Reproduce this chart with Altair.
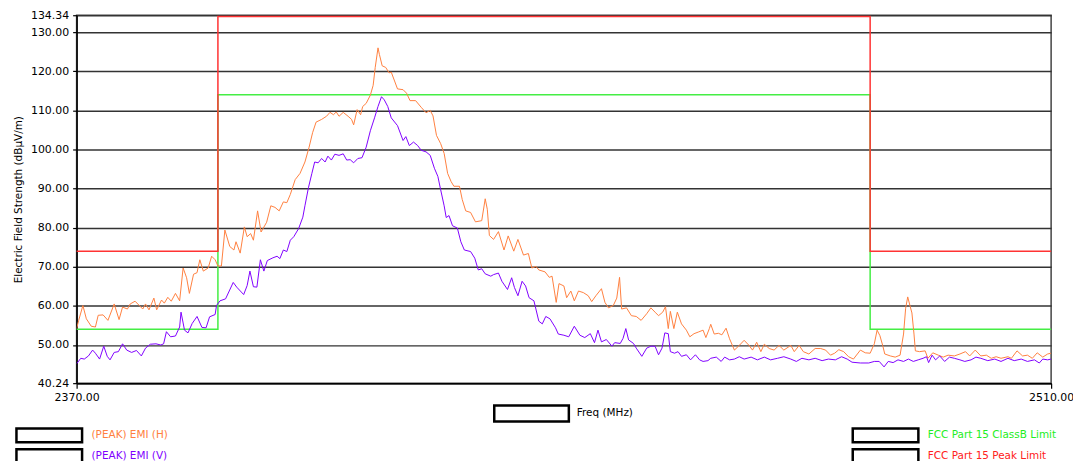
import altair as alt
import pandas as pd

# ---------------- data ----------------
SERIES_EMI = ["(PEAK) EMI (H)", "(PEAK) EMI (V)"]
SERIES_LIMIT = ["FCC Part 15 ClassB Limit", "FCC Part 15 Peak Limit"]
X_TITLE = "Freq (MHz)"
Y_TITLE = "Electric Field Strength (dBµV/m)"

H_FREQ = [2370.0, 2370.3, 2370.9, 2371.4, 2372.1, 2372.7, 2373.1, 2373.8, 2374.5, 2375.4,
          2376.1, 2376.6, 2377.3, 2377.7, 2378.4, 2379.0, 2379.5, 2379.9, 2380.4, 2381.1,
          2381.5, 2382.2, 2382.6, 2383.1, 2383.6, 2384.2, 2384.8, 2385.3, 2385.8, 2386.2,
          2386.8, 2387.3, 2387.7, 2388.2, 2388.9, 2389.4, 2389.9, 2390.3, 2390.8, 2391.3,
          2392.0, 2392.6, 2392.9, 2393.5, 2394.1, 2394.5, 2395.0, 2395.4, 2396.0, 2396.5,
          2397.3, 2397.9, 2398.5, 2399.1, 2399.7, 2400.2, 2400.7, 2401.4, 2402.1, 2402.8,
          2403.4, 2403.9, 2404.4, 2405.2, 2405.9, 2406.4, 2406.9, 2407.3, 2407.7, 2408.3,
          2409.0, 2409.5, 2409.8, 2410.3, 2410.8, 2411.1, 2411.6, 2412.2, 2412.6, 2412.9,
          2413.3, 2413.5, 2413.9, 2414.4, 2414.9, 2415.2, 2416.1, 2416.9, 2417.4, 2417.9,
          2418.7, 2419.5, 2420.2, 2420.8, 2421.2, 2421.7, 2422.3, 2422.8, 2423.3, 2423.8,
          2424.2, 2425.0, 2425.4, 2425.9, 2426.6, 2427.3, 2428.2, 2428.7, 2429.0, 2429.3,
          2429.9, 2430.6, 2431.4, 2432.0, 2432.8, 2433.4, 2434.2, 2434.9, 2435.4, 2436.0,
          2436.4, 2437.3, 2437.9, 2438.3, 2438.9, 2439.3, 2440.0, 2440.4, 2441.0, 2441.5,
          2442.1, 2442.8, 2443.5, 2444.0, 2444.6, 2445.4, 2445.9, 2446.4, 2447.1, 2447.6,
          2448.0, 2448.3, 2449.0, 2449.7, 2450.4, 2451.1, 2451.9, 2452.5, 2453.1, 2453.6,
          2454.2, 2454.6, 2455.0, 2455.3, 2455.8, 2456.3, 2456.9, 2457.6, 2458.1, 2458.7,
          2459.3, 2460.0, 2460.4, 2460.9, 2461.1, 2461.6, 2462.2, 2462.7, 2463.3, 2463.8,
          2464.5, 2465.2, 2465.9, 2466.6, 2467.1, 2467.7, 2468.3, 2468.8, 2469.5, 2470.2,
          2470.9, 2471.6, 2472.6, 2473.1, 2473.8, 2474.4, 2475.2, 2476.1, 2476.9, 2477.6,
          2478.3, 2478.9, 2479.5, 2480.2, 2480.9, 2481.6, 2482.6, 2483.3, 2484.0, 2484.6,
          2485.0, 2485.4, 2485.8, 2486.1, 2486.9, 2487.6, 2488.3, 2488.8, 2489.1, 2489.4,
          2489.7, 2490.0, 2490.3, 2490.5, 2491.1, 2491.9, 2492.3, 2493.0, 2493.8, 2494.5,
          2495.2, 2496.1, 2496.9, 2497.7, 2498.3, 2499.1, 2499.9, 2500.7, 2501.4, 2502.1,
          2502.8, 2503.8, 2504.3, 2505.1, 2505.9, 2506.6, 2507.3, 2508.0, 2508.8, 2509.5,
          2510.0]
H_LEVEL = [54.2, 56.3, 60.1, 56.7, 54.8, 54.6, 57.6, 57.7, 56.3, 60.5,
           56.5, 59.7, 59.2, 60.5, 61.2, 60.1, 59.2, 60.5, 59.0, 62.0,
           59.0, 61.5, 60.7, 62.2, 61.2, 63.2, 61.3, 69.7, 67.2, 63.2,
           68.1, 68.5, 71.8, 68.9, 69.7, 72.7, 71.8, 70.2, 70.2, 79.4,
           75.2, 74.3, 76.4, 73.5, 80.2, 77.7, 78.5, 76.8, 84.3, 78.9,
           81.4, 85.6, 85.2, 84.3, 86.6, 86.4, 88.5, 92.3, 93.9, 96.8,
           100.6, 104.3, 107.0, 107.7, 108.5, 109.5, 108.9, 109.6, 108.5, 109.5,
           108.5, 107.7, 106.3, 110.2, 108.9, 111.0, 111.8, 113.9, 116.4, 121.0,
           126.0, 124.3, 121.4, 121.0, 119.6, 119.8, 115.5, 115.3, 114.4, 112.5,
           112.5, 110.8, 109.4, 110.0, 108.6, 103.6, 101.5, 99.0, 93.9, 91.8,
           90.6, 90.6, 87.2, 84.3, 83.9, 81.5, 81.8, 87.4, 84.7, 78.0,
           77.0, 79.0, 74.3, 77.9, 74.0, 77.0, 73.0, 73.4, 69.7, 70.1,
           69.2, 68.7, 67.3, 67.6, 60.9, 65.7, 65.1, 62.1, 63.8, 61.3,
           63.8, 63.4, 62.6, 61.1, 62.6, 64.4, 60.9, 59.5, 60.1, 62.0,
           67.3, 59.2, 59.5, 57.5, 57.3, 56.3, 58.0, 59.5, 58.4, 57.5,
           58.4, 59.8, 54.2, 58.6, 54.2, 58.4, 55.4, 53.8, 52.1, 52.9,
           53.3, 53.8, 51.9, 54.2, 55.3, 52.8, 53.0, 52.6, 54.3, 51.6,
           48.7, 49.9, 51.2, 49.9, 48.7, 50.7, 48.3, 50.2, 49.1, 48.7,
           49.9, 48.7, 49.9, 48.3, 49.9, 48.3, 47.7, 49.1, 49.1, 48.7,
           47.4, 47.9, 48.8, 48.3, 47.0, 46.4, 48.7, 48.0, 47.9, 50.3,
           53.8, 52.4, 49.9, 47.7, 47.2, 46.9, 47.4, 52.8, 59.4, 62.3,
           60.2, 58.2, 52.8, 48.5, 48.3, 48.5, 46.6, 48.0, 47.4, 46.9,
           47.4, 47.2, 47.7, 48.3, 47.2, 48.7, 47.2, 47.4, 46.6, 47.0,
           46.6, 47.0, 46.6, 48.5, 47.2, 47.4, 46.6, 48.0, 46.9, 47.7,
           47.9]

V_FREQ = [2370.0, 2370.6, 2371.1, 2371.7, 2372.3, 2372.7, 2373.3, 2373.9, 2374.4, 2374.8,
          2375.4, 2376.0, 2376.6, 2377.2, 2377.9, 2378.6, 2379.3, 2379.9, 2380.6, 2381.4,
          2382.1, 2382.5, 2382.9, 2383.5, 2384.2, 2384.8, 2385.0, 2385.5, 2386.0, 2386.6,
          2387.3, 2388.0, 2388.6, 2389.1, 2389.9, 2390.1, 2390.6, 2391.4, 2392.5, 2393.0,
          2394.0, 2394.5, 2394.9, 2395.4, 2395.9, 2396.4, 2396.9, 2397.4, 2398.2, 2398.8,
          2399.2, 2399.7, 2400.2, 2400.7, 2401.2, 2401.9, 2402.5, 2402.8, 2403.3, 2403.8,
          2404.2, 2404.7, 2405.2, 2405.7, 2406.1, 2406.6, 2407.1, 2407.7, 2408.3, 2408.8,
          2409.3, 2409.8, 2410.4, 2411.0, 2411.6, 2412.2, 2412.8, 2413.3, 2413.8, 2414.2,
          2414.7, 2415.2, 2416.1, 2416.9, 2417.3, 2417.8, 2418.4, 2419.0, 2419.5, 2420.2,
          2420.8, 2421.4, 2421.9, 2422.3, 2422.8, 2423.1, 2423.5, 2424.0, 2424.7, 2425.2,
          2425.7, 2426.6, 2427.2, 2427.7, 2428.2, 2428.7, 2429.5, 2429.9, 2430.6, 2431.1,
          2431.9, 2432.5, 2432.9, 2433.4, 2434.0, 2434.5, 2435.0, 2435.7, 2436.4, 2436.9,
          2437.4, 2438.0, 2438.8, 2439.2, 2440.0, 2440.7, 2441.5, 2442.3, 2443.0, 2443.8,
          2444.4, 2444.9, 2445.4, 2446.1, 2446.9, 2447.3, 2448.1, 2448.5, 2448.9, 2449.3,
          2450.0, 2450.4, 2451.2, 2451.9, 2452.5, 2453.1, 2453.6, 2454.1, 2454.5, 2455.0,
          2455.3, 2455.9, 2456.4, 2456.9, 2457.6, 2458.2, 2458.9, 2459.5, 2460.0, 2460.7,
          2461.1, 2461.9, 2462.6, 2463.1, 2463.8, 2464.5, 2465.2, 2465.9, 2466.9, 2467.8,
          2468.8, 2469.7, 2470.7, 2471.6, 2472.6, 2473.4, 2474.2, 2475.2, 2476.1, 2477.1,
          2478.0, 2479.0, 2479.9, 2480.7, 2481.4, 2482.6, 2483.8, 2484.6, 2485.3, 2486.0,
          2486.6, 2487.3, 2488.0, 2488.8, 2489.5, 2490.2, 2490.9, 2491.6, 2492.1, 2492.4,
          2492.9, 2493.4, 2494.0, 2494.7, 2495.4, 2496.1, 2496.9, 2497.6, 2498.5, 2499.2,
          2499.9, 2500.9, 2501.9, 2502.8, 2503.8, 2504.7, 2505.7, 2506.6, 2507.6, 2508.3,
          2508.8, 2509.5, 2510.0]
V_LEVEL = [45.2, 46.6, 46.4, 47.2, 48.7, 47.9, 46.4, 49.7, 47.1, 46.2,
           48.1, 48.3, 50.3, 48.7, 48.1, 48.6, 47.2, 49.2, 50.2, 50.3,
           50.0, 50.3, 53.4, 52.1, 52.3, 54.6, 58.4, 53.8, 53.1, 55.5,
           57.3, 54.5, 54.4, 57.2, 57.8, 60.1, 61.3, 61.8, 66.0, 64.8,
           62.9, 65.2, 68.9, 64.9, 64.8, 71.8, 68.9, 71.6, 72.3, 72.7,
           72.1, 74.3, 73.9, 76.8, 77.7, 79.8, 82.7, 85.6, 90.2, 93.9,
           96.8, 96.6, 97.7, 96.8, 98.3, 97.3, 98.8, 98.5, 98.9, 97.3,
           97.4, 96.6, 97.7, 97.9, 100.6, 104.8, 108.1, 111.0, 113.5, 112.7,
           111.0, 108.1, 106.1, 102.3, 103.3, 101.0, 101.9, 101.0, 99.8, 99.4,
           98.5, 95.2, 93.1, 89.7, 85.6, 82.6, 83.1, 80.5, 79.9, 76.4,
           74.3, 73.9, 72.2, 69.2, 69.5, 68.2, 67.6, 68.0, 68.4, 66.3,
           64.2, 67.2, 64.7, 62.6, 66.3, 65.1, 62.1, 61.3, 56.1, 55.4,
           57.3, 56.7, 54.4, 52.8, 52.5, 52.1, 54.8, 52.5, 51.9, 52.9,
           50.6, 53.8, 50.8, 51.4, 49.7, 50.6, 50.4, 51.7, 54.2, 51.3,
           50.4, 49.2, 47.1, 49.2, 49.7, 49.7, 47.5, 49.2, 53.1, 52.9,
           48.3, 47.9, 48.3, 47.1, 47.5, 46.2, 47.5, 46.2, 45.8, 46.0,
           46.6, 46.9, 45.8, 46.9, 46.2, 46.4, 47.0, 46.4, 46.9, 46.2,
           46.9, 46.2, 46.6, 47.0, 46.4, 45.8, 46.6, 46.2, 46.6, 46.0,
           46.4, 46.2, 47.0, 46.4, 45.6, 45.4, 45.4, 45.8, 45.8, 44.4,
           45.8, 45.5, 46.2, 45.8, 46.4, 45.8, 46.2, 46.6, 47.0, 45.5,
           47.4, 46.2, 47.2, 45.8, 46.9, 46.6, 46.2, 45.8, 46.2, 46.9,
           46.6, 46.0, 46.4, 45.8, 46.6, 46.0, 46.4, 45.8, 46.2, 45.4,
           46.4, 46.2, 46.4]

LIMIT_FREQ = [2370.0, 2390.3, 2390.3, 2484.0, 2484.0, 2510.0]
CLASSB_LEVEL = [54.0, 54.0, 114.0, 114.0, 54.0, 54.0]
PEAK_LEVEL = [74.0, 74.0, 134.0, 134.0, 74.0, 74.0]

X_DOMAIN = [2370.0, 2510.0]
Y_DOMAIN = [40.24, 134.34]
Y_TICKS = [40.24, 50, 60, 70, 80, 90, 100, 110, 120, 130, 134.34]
X_TICKS = [2370.0, 2510.0]

EMI_COLORS = ["#ff8040", "#8000ff"]
LIMIT_COLORS = ["#44ee44", "#ff3333"]
LIMIT_LABEL_COLORS = ["#22ee22", "#ff2020"]

# ---------------- tables ----------------
emi = pd.concat([
    pd.DataFrame({"freq": H_FREQ, "level": H_LEVEL, "series": SERIES_EMI[0]}),
    pd.DataFrame({"freq": V_FREQ, "level": V_LEVEL, "series": SERIES_EMI[1]}),
], ignore_index=True)

limits = pd.concat([
    pd.DataFrame({"freq": LIMIT_FREQ, "level": CLASSB_LEVEL, "series": SERIES_LIMIT[0],
                  "step": list(range(len(LIMIT_FREQ)))}),
    pd.DataFrame({"freq": LIMIT_FREQ, "level": PEAK_LEVEL, "series": SERIES_LIMIT[1],
                  "step": list(range(len(LIMIT_FREQ)))}),
], ignore_index=True)

FONT = "DejaVu Sans"


def box_path(w, h):
    # box symbol in units of h/2, so legend rows are laid out by the box height
    r = w / h
    return "M %.3f -1 L %.3f -1 L %.3f 1 L %.3f 1 Z" % (-r, r, r, -r)


x_enc = alt.X("freq:Q", scale=alt.Scale(domain=X_DOMAIN, nice=False, zero=False),
              axis=alt.Axis(values=X_TICKS, format=".2f", title=None, grid=False,
                            labelFlush=False, labelOverlap=False, tickSize=5,
                            labelPadding=3))
y_enc = alt.Y("level:Q", scale=alt.Scale(domain=Y_DOMAIN, nice=False, zero=False),
              axis=alt.Axis(values=Y_TICKS, format=".2f", title=Y_TITLE, grid=True,
                            labelFlush=False, labelOverlap=False, tickSize=4,
                            labelPadding=4, titlePadding=7))


def box_legend(x, y, h, offset, label_expr, row_pad=-8):
    return alt.Legend(
        title=None, orient="none", legendX=x, legendY=y,
        symbolSize=h * h, symbolOpacity=1,
        symbolFillColor="white", symbolStrokeColor="black", symbolStrokeWidth=2.5,
        labelFont=FONT, labelFontSize=10.5, labelColor={"expr": label_expr},
        labelOffset=offset, rowPadding=row_pad, padding=0)


emi_expr = "datum.value == '%s' ? '%s' : '%s'" % (SERIES_EMI[0], EMI_COLORS[0], EMI_COLORS[1])
lim_expr = "datum.value == '%s' ? '%s' : '%s'" % (SERIES_LIMIT[0], LIMIT_LABEL_COLORS[0],
                                                  LIMIT_LABEL_COLORS[1])

emi_lines = alt.Chart(emi).mark_line(strokeWidth=1, clip=True).encode(
    x=x_enc, y=y_enc,
    color=alt.Color("series:N", scale=alt.Scale(domain=SERIES_EMI, range=EMI_COLORS),
                    legend=None),
)

limit_lines = alt.Chart(limits).mark_line(strokeWidth=1.5).encode(
    x=x_enc, y=y_enc, order=alt.Order("step:Q"),
    color=alt.Color("series:N", scale=alt.Scale(domain=SERIES_LIMIT, range=LIMIT_COLORS),
                    legend=None),
)

SMALL_BOX = box_path(66, 14)
AXIS_BOX = box_path(75, 16)

# boxed keys below the plot: shape legends of zero-size points
emi_key = alt.Chart(emi).mark_point(size=0).encode(
    x=x_enc, y=y_enc,
    shape=alt.Shape("series:N", scale=alt.Scale(domain=SERIES_EMI, range=[SMALL_BOX, SMALL_BOX]),
                    legend=box_legend(-36, 414, 14, 34, emi_expr)),
)

limit_key = alt.Chart(limits).mark_point(size=0).encode(
    x=x_enc, y=y_enc,
    shape=alt.Shape("series:N", scale=alt.Scale(domain=SERIES_LIMIT, range=[SMALL_BOX, SMALL_BOX]),
                    legend=box_legend(805, 414, 14, 34, lim_expr)),
)

axis_key = alt.Chart(limits).mark_point(size=0).transform_calculate(
    axis="'%s'" % X_TITLE).encode(
    x=x_enc, y=y_enc,
    shape=alt.Shape("axis:N", scale=alt.Scale(domain=[X_TITLE], range=[AXIS_BOX]),
                    legend=box_legend(448, 391, 16, 36, "'black'")),
)

chart = alt.layer(limit_lines, emi_lines, emi_key, limit_key, axis_key).resolve_scale(
    color="independent", shape="independent"
).resolve_legend(color="independent", shape="independent").properties(
    width=980, height=370,
    autosize=alt.AutoSizeParams(type="none"),
    padding={"left": 69, "top": 6, "right": 22, "bottom": 77},
    background="white",
).configure_view(
    stroke="#444", strokeWidth=1.5
).configure_axis(
    labelFont=FONT, labelFontSize=11, labelColor="black",
    titleFont=FONT, titleFontSize=10.5, titleFontWeight="normal", titleColor="black",
    domainColor="black", domainWidth=1.5, tickColor="black", tickWidth=1.2,
    gridColor="#333", gridWidth=1.5, gridOpacity=1,
)

chart.save("out.html", embed_options={"renderer": "svg", "actions": False})
